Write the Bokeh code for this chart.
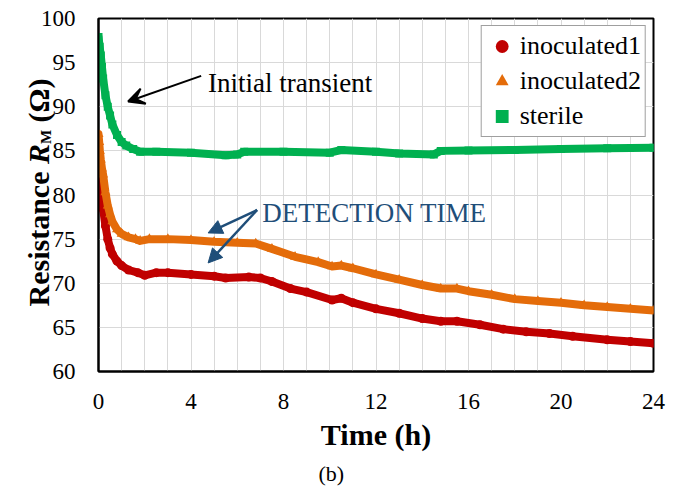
from bokeh.plotting import figure
from bokeh.models import (Legend, LegendItem, Label, Arrow, VeeHead, NormalHead,
                          FixedTicker, ColumnDataSource, Title)
from bokeh.embed import file_html
from bokeh.resources import INLINE

# ---------------- data ----------------
series_names = ["inoculated1", "inoculated2", "sterile"]
series_colors = ["#C00000", "#E46C0A", "#00B050"]

t_inoc1 = [0, 0.03, 0.06, 0.1, 0.15, 0.2, 0.3, 0.4, 0.5, 0.6, 0.8, 1.0, 1.3, 1.7,
           2.0, 2.5, 3, 4, 5, 5.5, 6.5, 7, 7.5, 8.3, 9, 10.1, 10.5, 11, 12, 13,
           14, 14.8, 15.5, 16.5, 17.5, 18.5, 19.5, 20.5, 22, 23, 24]
r_inoc1 = [82.1, 81.5, 80.6, 79.8, 79.0, 78.4, 76.5, 75.0, 74.0, 73.3, 72.5, 72.0,
           71.5, 71.2, 70.9, 71.2, 71.2, 71.0, 70.8, 70.6, 70.7, 70.6, 70.2, 69.4,
           69.0, 68.1, 68.3, 67.8, 67.1, 66.6, 66.0, 65.7, 65.7, 65.3, 64.8, 64.5,
           64.3, 64.0, 63.6, 63.4, 63.2]

t_inoc2 = [0, 0.03, 0.06, 0.1, 0.15, 0.2, 0.3, 0.4, 0.5, 0.6, 0.8, 1.0, 1.3, 1.6,
           1.8, 2.2, 3, 4, 5, 6, 6.8, 7.5, 8.5, 9.5, 10.1, 10.5, 11, 12, 13, 14,
           14.8, 15.5, 16, 17, 18, 19, 20, 21, 22, 23, 24]
r_inoc2 = [86.9, 86.0, 85.0, 84.0, 83.0, 82.3, 80.3, 78.8, 77.8, 77.0, 76.1, 75.6,
           75.2, 75.0, 74.8, 75.0, 75.0, 74.9, 74.7, 74.6, 74.5, 73.9, 73.0, 72.4,
           71.9, 72.0, 71.7, 71.0, 70.4, 69.8, 69.4, 69.4, 69.1, 68.7, 68.2, 68.0,
           67.8, 67.5, 67.3, 67.1, 66.9]

t_sterile = [0, 0.05, 0.1, 0.15, 0.2, 0.3, 0.4, 0.5, 0.6, 0.8, 1.0, 1.2, 1.5, 1.8,
             2.5, 4, 5.5, 6.0, 6.3, 8, 10, 10.5, 12, 13, 14.5, 14.8, 16, 18, 20,
             22, 24]
r_sterile = [97.9, 96.8, 95.8, 94.5, 93.2, 91.3, 90.0, 89.0, 88.0, 86.8, 86.0, 85.6,
             85.2, 84.9, 84.9, 84.8, 84.5, 84.6, 84.9, 84.9, 84.8, 85.1, 84.9, 84.7,
             84.6, 85.0, 85.05, 85.1, 85.2, 85.3, 85.35]

x_ticks = [0, 4, 8, 12, 16, 20, 24]
x_grid = list(range(0, 25))
y_ticks = [60, 65, 70, 75, 80, 85, 90, 95, 100]

ylab_texts = ["Resistance", "R", "M", "(\u03a9)"]

# ---------------- styling constants ----------------
SERIF = "Times New Roman"
BLUE = "#1F4E79"
H = 490

# ---------------- main figure ----------------
p = figure(width=675, height=H, x_range=(0, 24), y_range=(60, 100),
           output_backend="svg", toolbar_location=None,
           min_border_left=98, min_border_right=22, min_border_top=18,
           min_border_bottom=H - 375)
p.background_fill_color = "white"
p.border_fill_color = "white"
p.outline_line_color = "black"
p.outline_line_width = 2

p.xgrid.ticker = FixedTicker(ticks=x_grid)
p.ygrid.ticker = FixedTicker(ticks=y_ticks)
p.grid.grid_line_color = "#D9D9D9"
p.grid.grid_line_width = 1

p.xaxis.ticker = FixedTicker(ticks=x_ticks)
p.yaxis.ticker = FixedTicker(ticks=y_ticks)
for ax in (p.xaxis, p.yaxis):
    ax.major_tick_line_color = None
    ax.minor_tick_line_color = None
    ax.axis_line_color = "black"
    ax.axis_line_width = 2
    ax.major_label_text_font = SERIF
    ax.major_label_text_font_size = "23px"
    ax.major_label_text_color = "black"
p.xaxis.major_label_standoff = 16
p.yaxis.major_label_standoff = 17

p.xaxis.axis_label = "Time (h)"
p.xaxis.axis_label_text_font = SERIF
p.xaxis.axis_label_text_font_size = "30px"
p.xaxis.axis_label_text_font_style = "bold"
p.xaxis.axis_label_text_color = "black"
p.xaxis.axis_label_standoff = 6

# ---------------- series ----------------
markers = ["circle", "triangle", "square"]
sizes = [9, 10, 8]
all_t = [t_inoc1, t_inoc2, t_sterile]
all_r = [r_inoc1, r_inoc2, r_sterile]
items = []
for name, col, mk, sz, tt, rr in zip(series_names, series_colors, markers, sizes, all_t, all_r):
    src = ColumnDataSource(dict(t=tt, r=rr))
    p.line("t", "r", source=src, line_color=col, line_width=8,
           line_join="round", line_cap="round")
    sc = p.scatter("t", "r", source=src, marker=mk, size=sz, fill_color=col,
                   line_color=col, line_width=0)
    items.append(LegendItem(label=name, renderers=[sc]))

legend = Legend(items=items, location="top_right",
                label_text_font=SERIF, label_text_font_size="26px",
                label_text_color="black",
                glyph_width=32, glyph_height=32, label_height=32,
                spacing=3, padding=4, margin=7, label_standoff=2,
                border_line_color="#404040", border_line_width=1,
                background_fill_color="white", background_fill_alpha=1.0)
p.add_layout(legend)

# ---------------- annotations ----------------
p.add_layout(Arrow(end=VeeHead(size=16, line_color="black", line_width=2),
                   x_start=4.44, y_start=93.5, x_end=1.28, y_end=90.6,
                   line_color="black", line_width=2))
p.add_layout(Label(x=4.74, y=92.72, text="Initial transient",
                   text_font=SERIF, text_font_size="27px", text_color="black",
                   text_baseline="alphabetic"))

for (xe, ye) in [(4.74, 75.7), (4.74, 72.3)]:
    p.add_layout(Arrow(end=NormalHead(size=14, fill_color=BLUE, line_color=BLUE),
                       x_start=6.86, y_start=78.3, x_end=xe, y_end=ye,
                       line_color=BLUE, line_width=2.5))
p.add_layout(Label(x=7.08, y=77.94, text="DETECTION TIME",
                   text_font=SERIF, text_font_size="27px", text_color=BLUE,
                   text_baseline="alphabetic"))

p.add_layout(Title(text="(b)", align="left", offset=220, text_font=SERIF,
                   text_font_size="22px", text_font_style="normal",
                   text_color="black"), "below")

# ---------------- y-axis title: transparent square with horizontal text, turned upright by CSS ----------------
LS = 240
lab = figure(width=LS, height=LS, x_range=(0, LS), y_range=(LS, 0),
             output_backend="svg", toolbar_location=None,
             min_border_left=0, min_border_right=0, min_border_top=0,
             min_border_bottom=0,
             styles={"position": "absolute", "left": "0px", "top": "75px",
                     "transform": "rotate(-90deg)", "pointer-events": "none"})
lab.axis.visible = False
lab.grid.visible = False
lab.outline_line_color = None
lab.background_fill_alpha = 0
lab.border_fill_alpha = 0

lab_u = [8, 150.5, 170.5, 192]
lab_v = [38, 38, 45, 38]
lab_size = ["30px", "30px", "15px", "30px"]
lab_style = ["bold", "bold italic", "bold", "bold"]
for txt, lu, lv, fs, st in zip(ylab_texts, lab_u, lab_v, lab_size, lab_style):
    lab.add_layout(Label(x=lu, y=lv, text=txt, text_font=SERIF,
                         text_font_size=fs, text_font_style=st,
                         text_color="black", text_align="left",
                         text_baseline="alphabetic"))

open("out.html", "w").write(file_html([p, lab], INLINE))
